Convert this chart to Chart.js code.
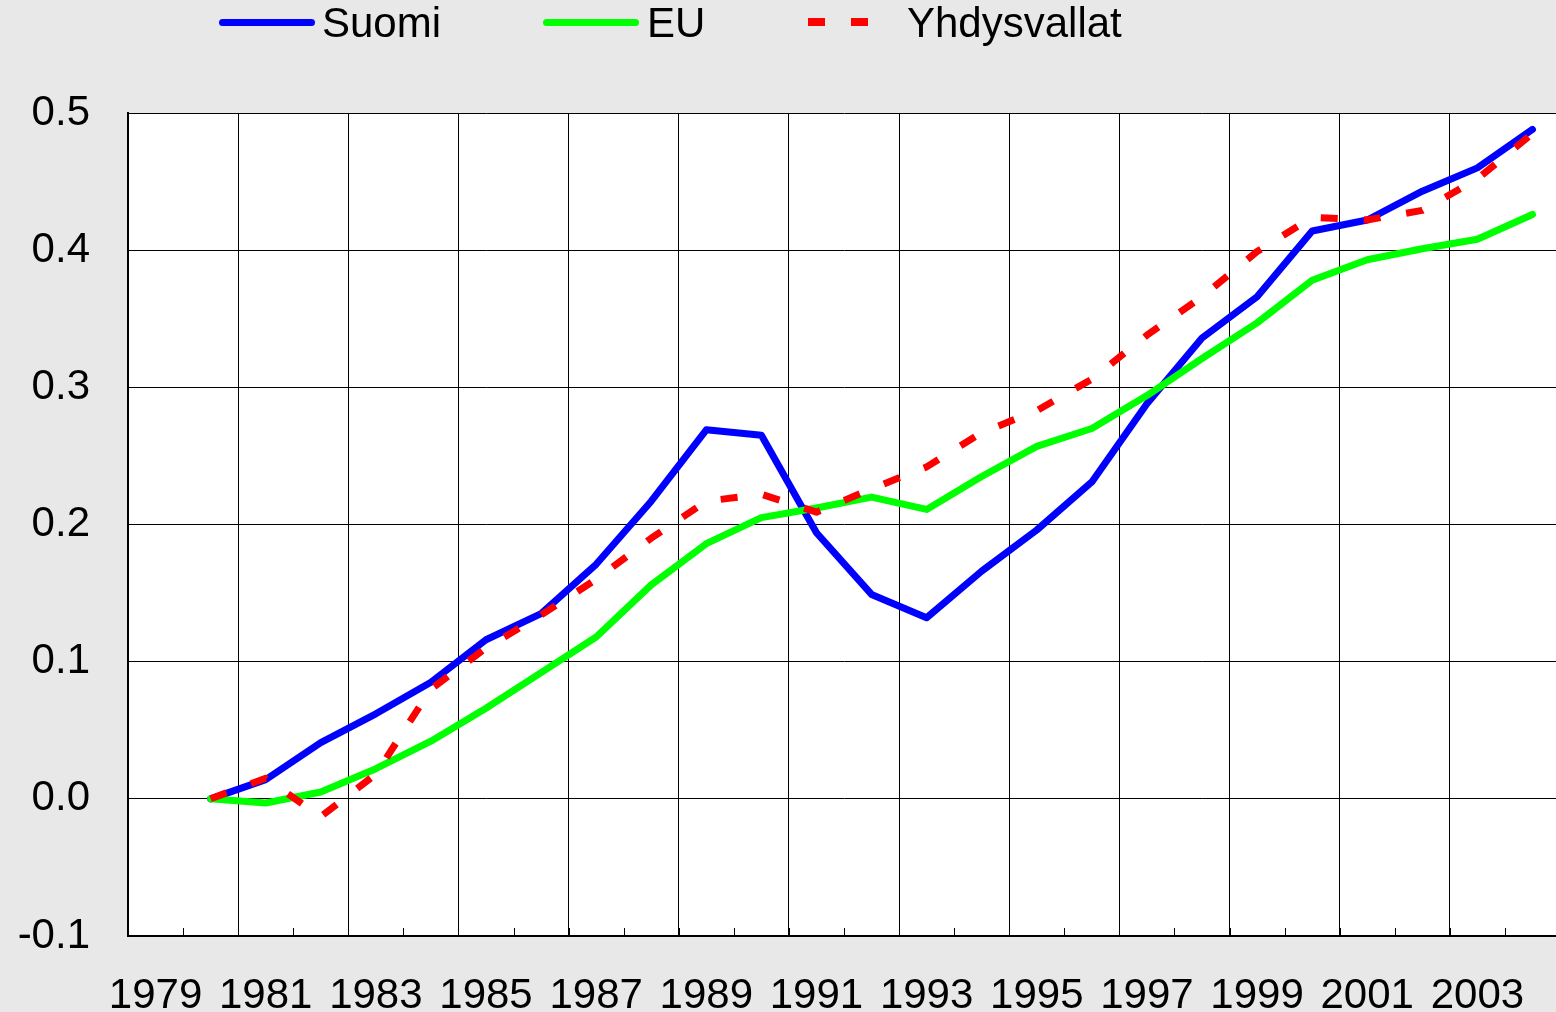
<!DOCTYPE html>
<html><head><meta charset="utf-8">
<script src="https://cdn.jsdelivr.net/npm/chart.js@4/dist/chart.umd.min.js"></script>
<style>
html,body{margin:0;padding:0;background:#e8e8e8;overflow:hidden;}
#wrap{position:relative;width:1556px;height:1012px;overflow:hidden;background:#e8e8e8;}
#c{position:absolute;left:0;top:0;}
.lg{position:absolute;font-family:"Liberation Sans",Arial,sans-serif;font-size:42px;line-height:42px;color:#000;top:2px;white-space:nowrap;}
.ln{position:absolute;height:7px;top:19px;}
</style></head>
<body><div id="wrap"><canvas id="c" width="1560" height="1012" style="width:1560px;height:1012px"></canvas><div id="legend"></div></div>
<script>
const years = ['1979','1980','1981','1982','1983','1984','1985','1986','1987','1988','1989','1990','1991','1992','1993','1994','1995','1996','1997','1998','1999','2000','2001','2002','2003','2004'];
const suomi = [null, 0, 0.014, 0.041, 0.062, 0.085, 0.116, 0.135, 0.171, 0.217, 0.269, 0.265, 0.194, 0.149, 0.132, 0.166, 0.196, 0.231, 0.288, 0.336, 0.366, 0.414, 0.422, 0.443, 0.460, 0.488];
const eu = [null, 0, -0.003, 0.005, 0.022, 0.042, 0.066, 0.092, 0.118, 0.156, 0.186, 0.205, 0.212, 0.220, 0.211, 0.235, 0.257, 0.270, 0.294, 0.321, 0.347, 0.378, 0.393, 0.401, 0.408, 0.426];
const usa = [null, 0, 0.015, -0.013, 0.018, 0.080, 0.110, 0.134, 0.160, 0.190, 0.217, 0.222, 0.209, 0.226, 0.242, 0.267, 0.283, 0.306, 0.338, 0.366, 0.399, 0.424, 0.422, 0.429, 0.452, 0.485];
const seriesNames = ['Suomi', 'EU', 'Yhdysvallat'];
const seriesColors = ['#0000ff', '#00ff00', '#ff0000'];
const yMin = -0.1, yMax = 0.5, yStep = 0.1;

const FONT = '"Liberation Sans", Arial, sans-serif';

// legend (HTML)
const legendLayout = [
  {lineLeft: 219, lineW: 96, textLeft: 322, dashed: false},
  {lineLeft: 543, lineW: 96, textLeft: 647, dashed: false},
  {lineLeft: 808, lineW: 60, textLeft: 907, dashed: true}
];
const lg = document.getElementById('legend');
seriesNames.forEach((name, i) => {
  const L = legendLayout[i];
  if (L.dashed) {
    [0, 43].forEach(off => {
      const d = document.createElement('div');
      d.className = 'ln';
      d.style.left = (L.lineLeft + off) + 'px';
      d.style.width = '17px';
      d.style.height = '8px';
      d.style.top = '18px';
      d.style.background = seriesColors[i];
      lg.appendChild(d);
    });
  } else {
    const d = document.createElement('div');
    d.className = 'ln';
    d.style.left = L.lineLeft + 'px';
    d.style.width = L.lineW + 'px';
    d.style.borderRadius = '3.5px';
    d.style.background = seriesColors[i];
    lg.appendChild(d);
  }
  const t = document.createElement('div');
  t.className = 'lg';
  t.style.left = L.textLeft + 'px';
  t.textContent = name;
  lg.appendChild(t);
});

const plotBg = {
  id: 'plotBg',
  beforeDraw(chart) {
    const {ctx, chartArea: a} = chart;
    ctx.save();
    ctx.fillStyle = '#ffffff';
    ctx.fillRect(a.left, a.top, a.right - a.left, a.bottom - a.top);
    ctx.restore();
  }
};
const innerTicks = {
  id: 'innerTicks',
  afterDraw(chart) {
    const x = chart.scales.x, ctx = chart.ctx;
    ctx.save();
    ctx.strokeStyle = '#000';
    ctx.lineWidth = 1;
    for (let i = 1; i < years.length; i++) {
      const px = Math.round(x.getPixelForValue(i - 0.5)) + 0.5;
      ctx.beginPath();
      ctx.moveTo(px, x.top);
      ctx.lineTo(px, x.top - 8);
      ctx.stroke();
    }
    ctx.restore();
  }
};

const seriesData = [suomi, eu, usa];
const datasets = seriesData.map((d, i) => ({
  label: seriesNames[i],
  data: d,
  borderColor: seriesColors[i],
  backgroundColor: seriesColors[i],
  borderWidth: 7,
  pointRadius: 0,
  pointHoverRadius: 0,
  tension: 0,
  fill: false,
  order: 2 - i,
  borderDash: i === 2 ? [17, 26] : [],
  borderCapStyle: i === 2 ? 'butt' : 'round',
  borderJoinStyle: 'round'
}));

new Chart(document.getElementById('c'), {
  type: 'line',
  data: { labels: years, datasets },
  options: {
    responsive: false,
    animation: false,
    devicePixelRatio: 1,
    layout: { autoPadding: false, padding: { top: 113, left: 0, right: 0, bottom: 0 } },
    plugins: { legend: { display: false }, tooltip: { enabled: false } },
    scales: {
      x: {
        type: 'category',
        offset: true,
        grid: {
          offset: true,
          drawTicks: false,
          lineWidth: 1,
          color: c => (c.index % 2 === 0 ? '#000' : 'rgba(0,0,0,0)')
        },
        border: { display: true, color: '#000', width: 2 },
        ticks: {
          autoSkip: false, maxRotation: 0, minRotation: 0, padding: 35, color: '#000',
          font: { family: FONT, size: 42 },
          callback: (v, i) => (i % 2 === 0 ? years[i] : '')
        },
        afterFit: s => { s.height = 76; s.paddingRight = 0; s.paddingLeft = 0; }
      },
      y: {
        min: yMin, max: yMax,
        grid: { drawTicks: false, color: '#000', lineWidth: 1 },
        border: { display: true, color: '#000', width: 2 },
        ticks: {
          stepSize: yStep, padding: 38, color: '#000',
          font: { family: FONT, size: 42 },
          callback: v => (Math.abs(v) < 1e-9 ? 0 : Number(v)).toFixed(1)
        },
        afterFit: s => { s.width = 128; s.paddingTop = 0; s.paddingBottom = 0; }
      }
    }
  },
  plugins: [plotBg, innerTicks]
});
</script>
</body></html>
